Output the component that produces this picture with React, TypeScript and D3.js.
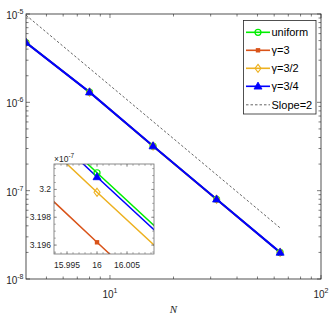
import React from 'react';
import * as d3 from 'd3';

// grid sizes and errors
const N = [4, 8, 16, 32, 64];
const errUniform = [4.76e-6, 1.305e-6, 3.2012e-7, 8.0e-8, 2.0e-8];
const errGamma3 = [4.74e-6, 1.302e-6, 3.1962e-7, 7.98e-8, 1.995e-8];
const errGamma32 = [4.75e-6, 1.304e-6, 3.1998e-7, 7.99e-8, 1.998e-8];
const errGamma34 = [4.755e-6, 1.3045e-6, 3.2009e-7, 8.0e-8, 2.0e-8];
const slopeN = [4, 64];
const slopeErr = [9.7e-6, 3.79e-8];

const seriesNames = ['uniform', 'γ=3', 'γ=3/2', 'γ=3/4'];
const seriesColors = ['#00ee00', '#d95319', '#edb120', '#0000ff'];
const seriesMarkers = ['circle', 'square', 'diamond', 'triangle'];
const seriesValues = [errUniform, errGamma3, errGamma32, errGamma34];

const xMajor = [10, 100];
const xMajorExp = ['1', '2'];
const yMajor = [1e-8, 1e-7, 1e-6, 1e-5];
const yMajorExp = ['-8', '-7', '-6', '-5'];

const insetXTicks = [15.995, 16, 16.005];
const insetXLabels = ['15.995', '16', '16.005'];
const insetYTicks = [3.196e-7, 3.198e-7, 3.2e-7];
const insetYLabels = ['3.196', '3.198', '3.2'];

const W = 332;
const H = 316;
const plot = { left: 26, right: 321, top: 14, bottom: 279 };
const inset = { left: 54, right: 154, top: 164, bottom: 254 };
const axisColor = '#262626';
const font = '"Liberation Sans", Arial, sans-serif';

function Marker({ type, x, y, color }: { type: string; x: number; y: number; color: string }) {
  if (type === 'circle')
    return <circle cx={x} cy={y} r={3} fill="none" stroke={color} strokeWidth={1.2} />;
  if (type === 'square')
    return <rect x={x - 2.2} y={y - 2.2} width={4.4} height={4.4} fill={color} />;
  if (type === 'diamond')
    return (
      <path d={`M${x},${y - 4}L${x + 3},${y}L${x},${y + 4}L${x - 3},${y}Z`} fill="none" stroke={color} strokeWidth={1.1} />
    );
  return <path d={`M${x},${y - 4.2}L${x + 4},${y + 2.8}L${x - 4},${y + 2.8}Z`} fill={color} stroke={color} strokeWidth={0.8} />;
}

function minorLogTicks(lo: number, hi: number) {
  const out: number[] = [];
  for (let e = Math.floor(Math.log10(lo)); e <= Math.ceil(Math.log10(hi)); e++) {
    for (let m = 2; m <= 9; m++) {
      const v = m * Math.pow(10, e);
      if (v > lo && v < hi) out.push(v);
    }
  }
  return out;
}

export default function App() {
  const x = d3.scaleLog().domain([4, 100]).range([plot.left, plot.right]);
  const y = d3.scaleLog().domain([1e-8, 1e-5]).range([plot.bottom, plot.top]);

  const ix = d3.scaleLog().domain([15.99283, 16.0095]).range([inset.left, inset.right]);
  const iy = d3.scaleLog().domain([3.19536e-7, 3.20183e-7]).range([inset.bottom, inset.top]);

  const mainLine = d3.line<number>().x((_, i) => x(N[i])).y((d) => y(d));
  const insetLine = d3.line<number>().x((_, i) => ix(N[i])).y((d) => iy(d));
  const slopeLine = d3.line<number>().x((_, i) => x(slopeN[i])).y((d) => y(d));

  const xMinor = minorLogTicks(4, 100);
  const yMinor = minorLogTicks(1e-8, 1e-5);

  const insetXMinor = d3.range(15.993, 16.0095, 0.001);
  const insetYMinor = d3.range(3.1955e-7, 3.2018e-7, 0.0005e-7);

  const legend = { left: 243.5, top: 20.5, width: 72.5, height: 93.5 };
  const legendRows = [32.3, 50.3, 68.3, 86.3, 104.8];

  return (
    <svg width={W} height={H} style={{ position: 'absolute', left: 0, top: 0, background: '#fff' }} fontFamily={font}>
      <defs>
        <clipPath id="mainClip">
          <rect x={plot.left} y={plot.top} width={plot.right - plot.left} height={plot.bottom - plot.top} />
        </clipPath>
        <clipPath id="insetClip">
          <rect x={inset.left} y={inset.top} width={inset.right - inset.left} height={inset.bottom - inset.top} />
        </clipPath>
      </defs>

      {/* ticks of the main box */}
      <g stroke={axisColor} strokeWidth={0.6}>
        {xMajor.map((v) => (
          <g key={'xM' + v}>
            <line x1={x(v)} x2={x(v)} y1={plot.bottom} y2={plot.bottom - 4} />
            <line x1={x(v)} x2={x(v)} y1={plot.top} y2={plot.top + 4} />
          </g>
        ))}
        {xMinor.map((v) => (
          <g key={'xm' + v}>
            <line x1={x(v)} x2={x(v)} y1={plot.bottom} y2={plot.bottom - 2.5} />
            <line x1={x(v)} x2={x(v)} y1={plot.top} y2={plot.top + 2.5} />
          </g>
        ))}
        {yMajor.map((v) => (
          <g key={'yM' + v}>
            <line x1={plot.left} x2={plot.left + 4} y1={y(v)} y2={y(v)} />
            <line x1={plot.right} x2={plot.right - 4} y1={y(v)} y2={y(v)} />
          </g>
        ))}
        {yMinor.map((v) => (
          <g key={'ym' + v}>
            <line x1={plot.left} x2={plot.left + 2.5} y1={y(v)} y2={y(v)} />
            <line x1={plot.right} x2={plot.right - 2.5} y1={y(v)} y2={y(v)} />
          </g>
        ))}
      </g>

      {/* data */}
      <g clipPath="url(#mainClip)">
        {seriesValues.map((vals, s) => (
          <path key={'l' + s} d={mainLine(vals) || ''} fill="none" stroke={seriesColors[s]} strokeWidth={s === 3 ? 2.2 : 1.6} />
        ))}
        {seriesValues.map((vals, s) =>
          vals.map((v, i) => <Marker key={'m' + s + i} type={seriesMarkers[s]} x={x(N[i])} y={y(v)} color={seriesColors[s]} />)
        )}
        <path d={slopeLine(slopeErr) || ''} fill="none" stroke="#222" strokeWidth={0.7} strokeDasharray="2.5,2" />
      </g>

      <rect x={plot.left} y={plot.top} width={plot.right - plot.left} height={plot.bottom - plot.top} fill="none" stroke={axisColor} strokeWidth={0.8} />

      {/* tick labels */}
      <g fill="#262626" fontSize={10}>
        {yMajor.map((v, i) => (
          <text key={'yl' + v} x={plot.left - 2.5} y={y(v) + 5} textAnchor="end">
            10<tspan dy={-5} fontSize={7}>{yMajorExp[i]}</tspan>
          </text>
        ))}
        {xMajor.map((v, i) => (
          <text key={'xl' + v} x={x(v)} y={298} textAnchor="middle">
            10<tspan dy={-5} fontSize={7}>{xMajorExp[i]}</tspan>
          </text>
        ))}
      </g>
      <text x={(plot.left + plot.right) / 2} y={313} textAnchor="middle" fontFamily='"Liberation Serif", serif' fontStyle="italic" fontSize={11} fill="#262626">
        N
      </text>

      {/* legend */}
      <rect x={legend.left} y={legend.top} width={legend.width} height={legend.height} fill="#fff" stroke={axisColor} strokeWidth={0.8} />
      {seriesNames.map((name, s) => (
        <g key={'lg' + s}>
          <line x1={246} x2={270} y1={legendRows[s]} y2={legendRows[s]} stroke={seriesColors[s]} strokeWidth={1.6} />
          <Marker type={seriesMarkers[s]} x={258} y={legendRows[s]} color={seriesColors[s]} />
          <text x={271.5} y={legendRows[s] + 4} fontSize={11} fill="#000">
            {name}
          </text>
        </g>
      ))}
      <line x1={246} x2={270} y1={legendRows[4]} y2={legendRows[4]} stroke="#222" strokeWidth={0.7} strokeDasharray="2.5,2" />
      <text x={271.5} y={legendRows[4] + 4} fontSize={11} fill="#000">
        Slope=2
      </text>

      {/* inset zoom around N = 16 */}
      <rect x={inset.left} y={inset.top} width={inset.right - inset.left} height={inset.bottom - inset.top} fill="#fff" />
      <g clipPath="url(#insetClip)">
        {seriesValues.map((vals, s) => (
          <path key={'il' + s} d={insetLine(vals) || ''} fill="none" stroke={seriesColors[s]} strokeWidth={1.5} />
        ))}
        {seriesValues.map((vals, s) => (
          <Marker key={'im' + s} type={seriesMarkers[s]} x={ix(N[2])} y={iy(vals[2])} color={seriesColors[s]} />
        ))}
      </g>
      <g stroke="#6e6e6e" strokeWidth={0.6}>
        {insetXTicks.map((v) => (
          <g key={'ixM' + v}>
            <line x1={ix(v)} x2={ix(v)} y1={inset.bottom} y2={inset.bottom - 3} />
            <line x1={ix(v)} x2={ix(v)} y1={inset.top} y2={inset.top + 3} />
          </g>
        ))}
        {insetXMinor.map((v) => (
          <g key={'ixm' + v}>
            <line x1={ix(v)} x2={ix(v)} y1={inset.bottom} y2={inset.bottom - 1.8} />
            <line x1={ix(v)} x2={ix(v)} y1={inset.top} y2={inset.top + 1.8} />
          </g>
        ))}
        {insetYTicks.map((v) => (
          <g key={'iyM' + v}>
            <line x1={inset.left} x2={inset.left + 3} y1={iy(v)} y2={iy(v)} />
            <line x1={inset.right} x2={inset.right - 3} y1={iy(v)} y2={iy(v)} />
          </g>
        ))}
        {insetYMinor.map((v) => (
          <g key={'iym' + v}>
            <line x1={inset.left} x2={inset.left + 1.8} y1={iy(v)} y2={iy(v)} />
            <line x1={inset.right} x2={inset.right - 1.8} y1={iy(v)} y2={iy(v)} />
          </g>
        ))}
      </g>
      <rect x={inset.left} y={inset.top} width={inset.right - inset.left} height={inset.bottom - inset.top} fill="none" stroke="#6e6e6e" strokeWidth={0.8} />
      <g fill="#262626" fontSize={8.5}>
        {insetXTicks.map((v, i) => (
          <text key={'ixl' + v} x={ix(v)} y={268} textAnchor="middle">
            {insetXLabels[i]}
          </text>
        ))}
        {insetYTicks.map((v, i) => (
          <text key={'iyl' + v} x={inset.left - 3} y={iy(v) + 3} textAnchor="end">
            {insetYLabels[i]}
          </text>
        ))}
        <text x={inset.left} y={161.5}>
          ×10<tspan dy={-4} fontSize={6.5}>-7</tspan>
        </text>
      </g>
    </svg>
  );
}
